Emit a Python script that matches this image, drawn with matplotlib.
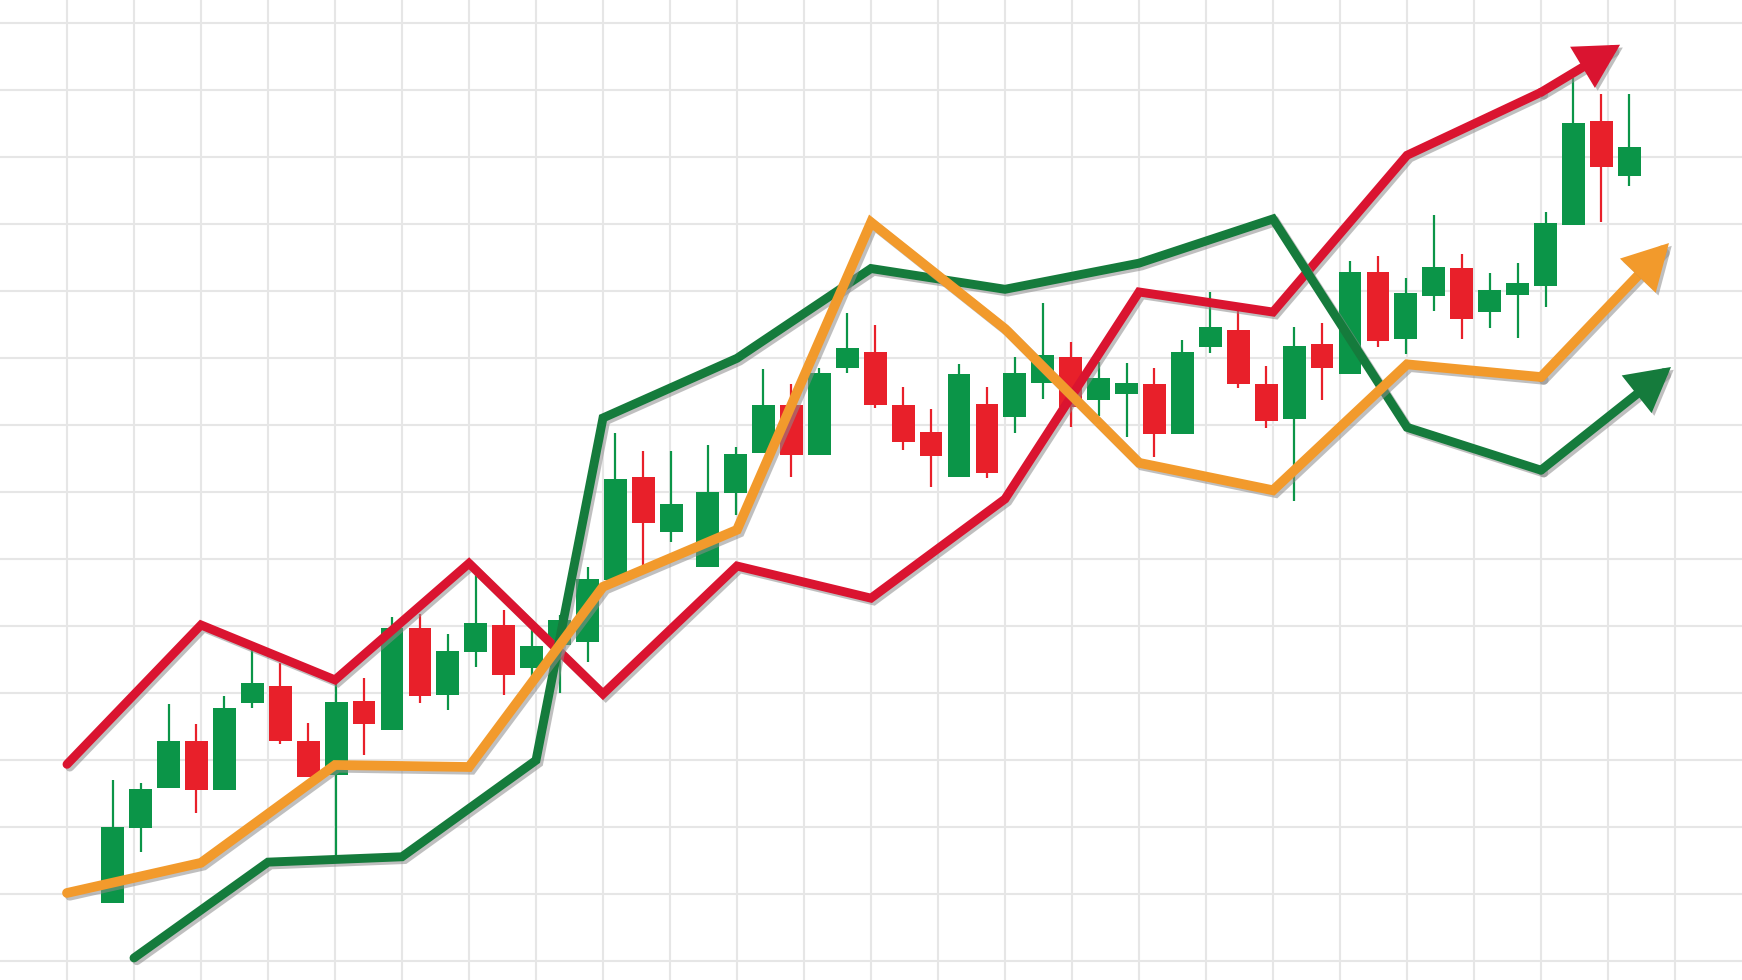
import numpy as np
import matplotlib
matplotlib.use("Agg")
import matplotlib.pyplot as plt
import matplotlib.patheffects as pe

# ---------------- data ----------------
# candlestick sessions (a short pause after session 20)
sessions = np.r_[np.arange(0, 21), np.arange(21, 55) + 0.3]
opens = [8.7, 19.9, 25.9, 32.9, 25.6, 38.6, 41.1, 32.9, 27.8, 38.9, 34.5, 49.7, 39.7, 46.2, 50.2,
         43.8, 47.2, 47.7, 56.9, 72.3, 64.1, 58.9, 69.9, 75.8, 83.0, 75.6, 88.5, 91.0, 83.0, 79.0,
         72.3, 83.2, 81.2, 86.3, 90.2, 83.8, 84.7, 86.2, 78.7, 91.7, 94.2, 86.2, 80.9, 92.1, 87.7,
         102.9, 92.9, 99.3, 103.5, 96.9, 99.4, 100.8, 109.9, 125.4, 117.2]
closes = [20.0, 25.7, 32.9, 25.6, 37.8, 41.5, 32.9, 27.5, 38.7, 35.4, 49.7, 39.6, 46.3, 50.5, 42.7,
          47.1, 51.0, 57.1, 72.0, 65.4, 68.2, 70.0, 75.7, 83.0, 75.6, 87.8, 91.6, 83.0, 77.5, 75.4,
          87.7, 72.9, 87.8, 90.5, 82.7, 87.1, 86.3, 78.7, 91.0, 94.7, 86.2, 80.6, 91.8, 88.5, 102.9,
          92.6, 99.7, 103.6, 95.9, 100.2, 101.2, 110.2, 125.1, 118.5, 121.5]
highs = [27.1, 26.6, 38.4, 35.4, 39.6, 46.8, 44.5, 35.6, 41.5, 42.3, 51.4, 51.8, 48.9, 58.1, 52.4,
         49.6, 51.7, 58.9, 78.8, 76.2, 76.2, 77.1, 76.8, 88.4, 86.1, 88.5, 96.7, 94.9, 85.7, 82.4,
         89.2, 85.7, 90.2, 98.2, 92.5, 89.5, 89.3, 88.6, 92.7, 99.9, 98.0, 88.8, 94.7, 95.3, 104.5,
         105.3, 102.0, 111.4, 105.6, 102.7, 104.2, 111.8, 131.8, 129.4, 129.4]
lows = [8.7, 16.3, 25.9, 22.1, 25.6, 37.8, 32.4, 27.5, 15.6, 30.8, 34.5, 38.6, 37.5, 43.9, 39.7,
        42.4, 40.1, 44.7, 56.9, 58.9, 62.6, 58.9, 66.6, 75.8, 72.3, 75.6, 87.8, 82.6, 76.3, 70.8,
        72.3, 72.1, 78.8, 83.9, 79.8, 81.4, 78.2, 75.3, 78.7, 90.8, 85.6, 79.6, 68.7, 83.8, 87.7,
        91.7, 90.6, 97.0, 92.9, 94.5, 93.0, 97.6, 109.9, 110.3, 115.7]

# trend lines (x in grid columns)
red_x = [1, 3, 5, 7, 9, 11, 13, 15, 17, 19, 21, 23]
red_vals = [29.4, 50.2, 42.0, 59.4, 39.9, 59.0, 54.2, 69.0, 99.9, 96.9, 120.3, 129.7]
red_tip = (24.18, 136.8)

orange_x = [1, 3, 5, 7, 9, 11, 13, 15, 17, 19, 21, 23]
orange_vals = [10.2, 14.7, 29.3, 29.0, 55.9, 64.4, 110.3, 94.4, 74.4, 70.3, 89.1, 87.2]
orange_tip = (24.91, 107.2)

green_x = [2, 4, 6, 8, 9, 11, 13, 15, 17, 19, 21, 23]
green_vals = [0.5, 14.8, 15.6, 30.0, 81.1, 90.0, 103.4, 100.3, 104.2, 110.8, 79.7, 73.3]
green_tip = (24.94, 88.7)

# ---------------- styling ----------------
C_UP = "#0B9548"
C_DOWN = "#E8202A"
C_RED_LINE = "#DA1430"
C_GREEN_LINE = "#157B3C"
C_ORANGE_LINE = "#F29A2C"
GRID = "#E6E6E6"

W, H = 1742, 980
CELL = 67.0
CANDLE_X0 = 112.7 / CELL
CANDLE_STEP = 27.93 / CELL

fig = plt.figure(figsize=(W / 100, H / 100), dpi=100)
fig.patch.set_facecolor("white")
ax = fig.add_axes([0, 0, 1, 1])
ax.set_facecolor("white")
ax.set_xlim(0, W / CELL)
ax.set_ylim(-(H - 961.3) / CELL * 10, 961.3 / CELL * 10)
ax.set_xticks(np.arange(1, 26))
ax.set_yticks(np.arange(0, 141, 10))
ax.grid(True, color=GRID, lw=1.5, zorder=0)
ax.tick_params(length=0, labelbottom=False, labelleft=False)
for s in ax.spines.values():
    s.set_visible(False)
ax.set_axisbelow(True)

# candles
o = np.array(opens); c = np.array(closes); hi = np.array(highs); lo = np.array(lows)
cx = CANDLE_X0 + CANDLE_STEP * sessions
cols = np.where(c >= o, C_UP, C_DOWN)
ax.vlines(cx, lo, hi, colors=cols, lw=1.6, zorder=2)
ax.bar(cx, np.abs(c - o), bottom=np.minimum(o, c), width=0.34, color=cols,
       linewidth=0, zorder=3)

shadow = [pe.SimpleLineShadow(offset=(2.0, -2.0), shadow_color="#8c8c8c", alpha=0.55),
          pe.Normal()]


def trend(xs, ys, tip, color, lw, z):
    ax.plot(xs, ys, color=color, lw=lw, solid_capstyle="round",
            solid_joinstyle="miter", zorder=z, path_effects=shadow)
    ann = ax.annotate("", xy=tip, xytext=(xs[-1], ys[-1]),
                      arrowprops=dict(arrowstyle="-|>,head_length=1.55,head_width=0.85",
                                      mutation_scale=14, lw=lw, color=color,
                                      shrinkA=0, shrinkB=0, joinstyle="miter"),
                      zorder=z)
    ann.arrow_patch.set_path_effects(shadow)


trend(red_x, red_vals, red_tip, C_RED_LINE, 6.4, 5)
trend(green_x, green_vals, green_tip, C_GREEN_LINE, 6.4, 6)
trend(orange_x, orange_vals, orange_tip, C_ORANGE_LINE, 7.0, 7)

fig.savefig("out.png", dpi=100, facecolor="white")
